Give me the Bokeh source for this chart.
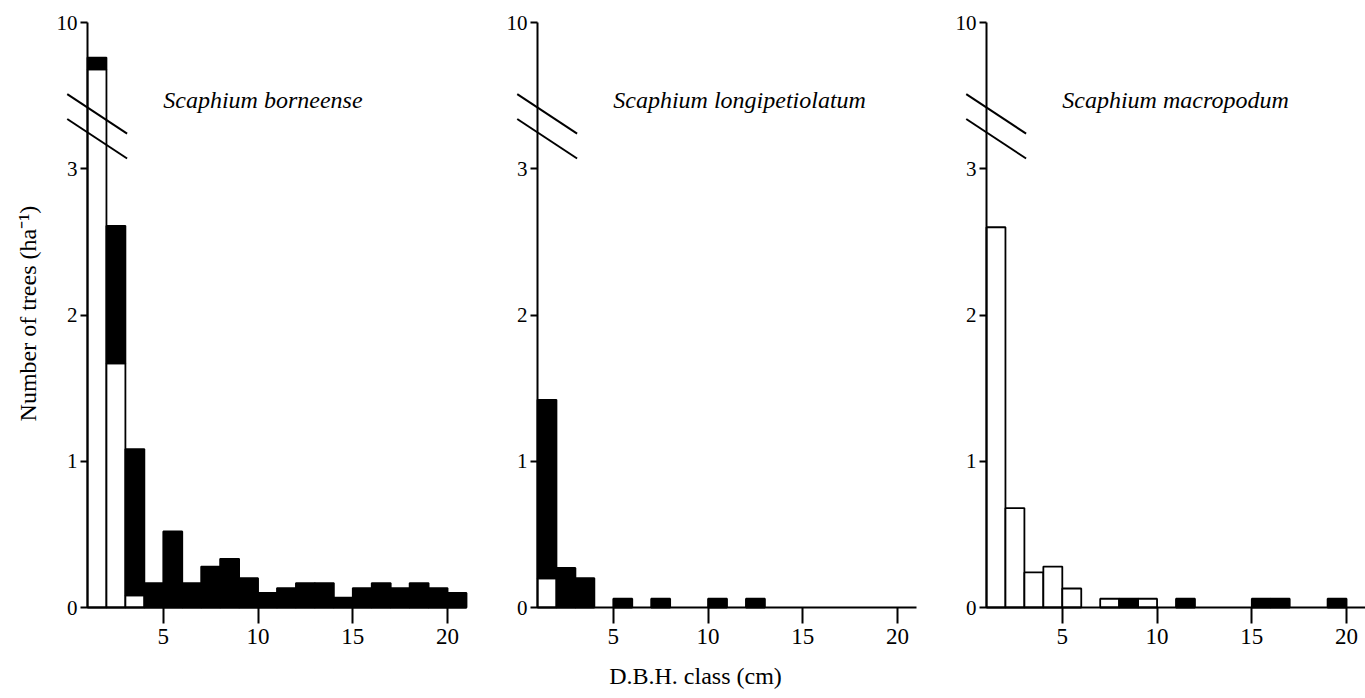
from bokeh.plotting import figure
from bokeh.layouts import row
from bokeh.models import Range1d, FixedTicker, Label, ColumnDataSource
from bokeh.embed import file_html
from bokeh.resources import INLINE
import math

# DBH classes: class c covers [c, c+1] cm
classes = list(range(1, 21))

titles = ["Scaphium borneense", "Scaphium longipetiolatum", "Scaphium macropodum"]

# open (white) and filled (black) parts of each bar, trees per ha
borneense_open = [6.8, 1.67, 0.083, 0, 0, 0, 0, 0, 0, 0,
                  0, 0, 0, 0, 0, 0, 0, 0, 0, 0]
borneense_black = [0.8, 0.94, 1.0, 0.167, 0.52, 0.167, 0.28, 0.333, 0.2, 0.1,
                   0.133, 0.167, 0.167, 0.067, 0.133, 0.167, 0.133, 0.167, 0.133, 0.1]

longi_open = [0.2, 0, 0, 0, 0, 0, 0, 0, 0, 0,
              0, 0, 0, 0, 0, 0, 0, 0, 0, 0]
longi_black = [1.22, 0.27, 0.2, 0, 0.06, 0, 0.06, 0, 0, 0.06,
               0, 0.06, 0, 0, 0, 0, 0, 0, 0, 0]

macro_open = [2.6, 0.68, 0.24, 0.28, 0.13, 0, 0.06, 0, 0.06, 0,
              0, 0, 0, 0, 0, 0, 0, 0, 0, 0]
macro_black = [0, 0, 0, 0, 0, 0, 0, 0.06, 0, 0,
               0.06, 0, 0, 0, 0.06, 0.06, 0, 0, 0.06, 0]

y_ticks = [0, 1, 2, 3, 10]
x_ticks = [5, 10, 15, 20]

FONT = "Liberation Serif"
PXX = 18.95      # px per cm class
PXY = 146.25     # px per tree/ha (lower segment)
H = 698
BREAK = 3.4      # broken axis: values above compressed


def d(v):
    """Map value to displayed position on the broken axis."""
    return v if v <= BREAK else BREAK + (v - 4) * 0.1


def make_panel(open_vals, black_vals, title, frame_w, axis_px):
    x0 = 1 - axis_px / PXX
    p = figure(frame_width=frame_w, frame_height=H,
               x_range=Range1d(x0, x0 + frame_w / PXX),
               y_range=Range1d(-(H - 607) / PXY, 4 + 22 / PXY),
               output_backend="svg", toolbar_location=None,
               min_border=0)
    p.outline_line_color = None
    p.xgrid.visible = False
    p.ygrid.visible = False
    p.background_fill_color = "white"
    p.border_fill_color = "white"

    def cols(bottoms, tops, vals):
        keep = [i for i, v in enumerate(vals) if v > 0]
        return ColumnDataSource(dict(l=[classes[i] for i in keep],
                                     r=[classes[i] + 1 for i in keep],
                                     b=[bottoms[i] for i in keep],
                                     t=[tops[i] for i in keep]))

    ob = [0] * len(classes)
    ot = [d(v) for v in open_vals]
    bt = [d(o + b) for o, b in zip(open_vals, black_vals)]

    p.quad(left="l", right="r", bottom="b", top="t", source=cols(ob, ot, open_vals),
           fill_color="white", line_color="black", line_width=1.8)
    p.quad(left="l", right="r", bottom="b", top="t", source=cols(ot, bt, black_vals),
           fill_color="black", line_color="black", line_width=1.8)

    # axis break marks
    p.segment(x0=[-0.07, -0.07], y0=[3.51, 3.34], x1=[3.09, 3.09], y1=[3.24, 3.07],
              line_color="black", line_width=2)

    xa = p.xaxis[0]
    xa.fixed_location = 0
    xa.ticker = FixedTicker(ticks=x_ticks)
    xa.bounds = (1, 21)
    xa.axis_line_width = 2
    xa.major_tick_line_width = 2
    xa.major_tick_out = 16
    xa.major_tick_in = 0
    xa.minor_tick_out = 0
    xa.minor_tick_in = 0
    xa.major_label_text_font = FONT
    xa.major_label_text_font_size = "23px"
    xa.major_label_text_color = "black"
    xa.major_label_standoff = 5

    ya = p.yaxis[0]
    ya.fixed_location = 1
    ya.bounds = (0, 4)
    ya.ticker = FixedTicker(ticks=[d(v) if v <= 3 else 4 for v in y_ticks])
    ya.major_label_overrides = {(d(v) if v <= 3 else 4): str(v) for v in y_ticks}
    ya.axis_line_width = 2
    ya.major_tick_line_width = 2
    ya.major_tick_out = 7
    ya.major_tick_in = 0
    ya.minor_tick_out = 0
    ya.minor_tick_in = 0
    ya.major_label_text_font = FONT
    ya.major_label_text_font_size = "21px"
    ya.major_label_text_color = "black"
    ya.major_label_standoff = 3

    p.add_layout(Label(x=5.0, y=3.47, text=title, text_font=FONT,
                       text_font_style="italic", text_font_size="24px",
                       text_baseline="middle", text_color="black"))
    return p


p1 = make_panel(borneense_open, borneense_black, titles[0], 490, 87)
p2 = make_panel(longi_open, longi_black, titles[1], 450, 47)
p3 = make_panel(macro_open, macro_black, titles[2], 425, 46)

p1.add_layout(Label(x=1 - 60 / PXX, y=2.01, text="Number of trees (ha\u207b\u00b9)",
                    angle=math.pi / 2, text_font=FONT, text_font_size="24px",
                    text_align="center", text_baseline="middle", text_color="black"))
p2.add_layout(Label(x=1 + 158 / PXX, y=-68 / PXY, text="D.B.H. class (cm)",
                    text_font=FONT, text_font_size="24px",
                    text_align="center", text_baseline="middle", text_color="black"))

layout = row(p1, p2, p3, spacing=0)
open("out.html", "w").write(file_html(layout, INLINE))
